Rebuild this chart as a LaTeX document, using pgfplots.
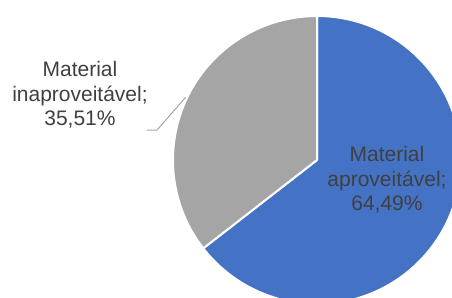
\documentclass[border=0pt]{standalone}
\usepackage{pgfplots}
\pgfplotsset{compat=1.18}
\usepackage{fontspec}
\setmainfont{Liberation Sans}
\definecolor{pieblue}{HTML}{4472C4}
\definecolor{piegray}{HTML}{A5A5A5}
\definecolor{labelgray}{HTML}{404040}
\definecolor{leadergray}{HTML}{A6A6A6}
% values (percent)
\def\valA{64.49}% Material aproveitavel
\def\valB{35.51}% Material inaproveitavel
\begin{document}
\begin{tikzpicture}
\begin{axis}[
  hide axis, scale only axis,
  width=339pt, height=222.75pt,
  xmin=-2.2014, xmax=0.9375,
  ymin=-0.9514, ymax=1.1111,
  clip=true,
]
\pgfmathsetmacro{\endA}{90-3.6*\valA}
\pgfmathsetmacro{\endB}{\endA-3.6*\valB}
\pgfmathsetmacro{\cx}{cos(\endA)}
\pgfmathsetmacro{\cy}{sin(\endA)}
\filldraw[fill=pieblue, draw=white, line width=1.5pt, line join=round]
  (axis cs:0,0) -- (axis cs:0,1) arc[start angle=90, end angle=\endA, radius=108pt] -- cycle;
\filldraw[fill=piegray, draw=white, line width=1.5pt, line join=round]
  (axis cs:0,0) -- (axis cs:\cx,\cy) arc[start angle=\endA, end angle=\endB, radius=108pt] -- cycle;
\draw[leadergray, line width=0.75pt] (axis cs:-1.181,0.208) -- (axis cs:-1.111,0.208) -- (axis cs:-0.910,0.4375);
\node[align=center, text=labelgray, font=\fontsize{15.75}{18.4}\selectfont] at (axis cs:0.486,-0.139) {Material\\aproveitável;\\64,49\%};
\node[align=center, text=labelgray, font=\fontsize{15.75}{18.4}\selectfont] at (axis cs:-1.646,0.451) {Material\\inaproveitável;\\35,51\%};
\end{axis}
\pgfresetboundingbox
\useasboundingbox (current axis.south west) rectangle (current axis.north east);
\end{tikzpicture}
\end{document}
